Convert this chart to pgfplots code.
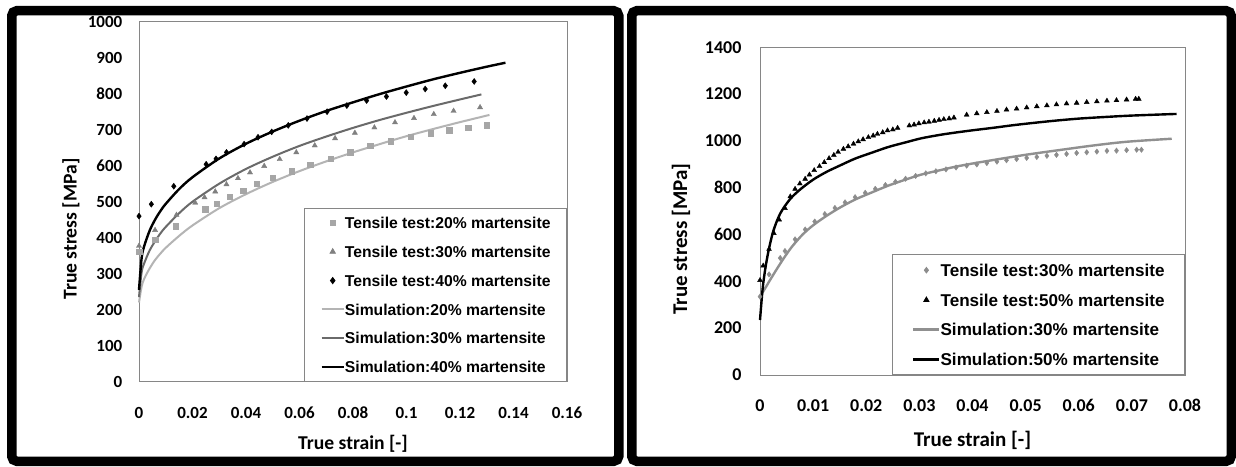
\documentclass[border=0pt]{standalone}
\usepackage{fontspec}
\setmainfont{Carlito}
\newfontfamily\legfont{Liberation Sans}
\usepackage{pgfplots}
\pgfplotsset{compat=1.18}

\definecolor{expA}{HTML}{A6A6A6}
\definecolor{simA}{HTML}{B4B4B4}
\definecolor{expB}{HTML}{808080}
\definecolor{simB}{HTML}{6A6A6A}
\definecolor{rgrayexp}{HTML}{8C8C8C}
\definecolor{rgraysim}{HTML}{909090}
\definecolor{boxgray}{HTML}{868686}

\pgfplotsset{
  panel/.style={
    scale only axis, clip=false,
    axis line style={boxgray, line width=0.9pt},
    major tick length=0pt, tick style={draw=none},
    scaled x ticks=false, scaled y ticks=false,
    /pgf/number format/assume math mode=true,
    legend cell align=left,
  }
}

\begin{document}
\begin{tikzpicture}
\path[use as bounding box] (0pt,0pt) rectangle (1236pt,466pt);
\fill[white] (0pt,0pt) rectangle (1236pt,466pt);

% panel frames
\draw[line width=9.5pt, rounded corners=5pt] (11.75pt,4.75pt) rectangle (618.75pt,455.25pt);
\draw[line width=9.5pt, rounded corners=5pt] (631.75pt,4.75pt) rectangle (1231.25pt,455.25pt);

% ---------------- left panel: 20/30/40 % martensite ----------------
\begin{axis}[panel,
  at={(139pt,84.3pt)}, anchor=south west,
  width=428pt, height=360pt,
  xmin=0, xmax=0.16, ymin=0, ymax=1000,
  xtick={0,0.02,0.04,0.06,0.08,0.1,0.12,0.14,0.16},
  xticklabels={0,0.02,0.04,0.06,0.08,0.1,0.12,0.14,0.16},
  ytick={0,100,200,300,400,500,600,700,800,900,1000},
  yticklabels={0,100,200,300,400,500,600,700,800,900,1000},
  xticklabel style={font=\fontsize{17}{20}\selectfont\bfseries, anchor=base, inner sep=0pt, yshift=-36.4pt},
  yticklabel style={font=\fontsize{17}{20}\selectfont\bfseries, anchor=base east, inner sep=0pt, xshift=-16.5pt, yshift=-5.4pt},
  xlabel={True strain [-]},
  ylabel={True stress [MPa]},
  xlabel style={font=\fontsize{19.6}{23}\selectfont\bfseries, at={(axis description cs:0.5,-0.1711)}, anchor=center},
  ylabel style={font=\fontsize{19.6}{23}\selectfont\bfseries, at={(axis description cs:-0.1589,0.424)}, anchor=center},
  legend image code/.code={\draw[mark repeat=2,mark phase=2,#1] plot coordinates {(0pt,0pt) (11pt,0pt) (22pt,0pt)};},
  legend style={at={(1,0)}, anchor=south east, draw=boxgray, line width=0.9pt, fill=white,
    font=\legfont\bfseries\fontsize{15.7}{18}\selectfont,
    inner xsep=16pt, inner ysep=8.5pt, row sep=17.2pt, column sep=0pt,
    nodes={inner sep=0pt, text height=11.6pt, text depth=0pt}},
]
\addplot[only marks, mark=square*, mark size=2.7pt, color=expA] coordinates {
(0,361) (0.006,395) (0.0137,432) (0.0248,479) (0.029,495) (0.034,514)
(0.039,530) (0.044,550) (0.050,567) (0.057,585) (0.064,602) (0.0717,620)
(0.079,638) (0.0864,655) (0.094,668) (0.1016,681) (0.109,690) (0.116,699)
(0.123,706) (0.130,713)};
\addlegendentry{Tensile test:20\% martensite}
\addplot[only marks, mark=triangle*, mark size=3pt, color=expB] coordinates {
(0,377) (0.006,421) (0.014,463) (0.021,497) (0.0245,512) (0.0285,528)
(0.0327,548) (0.037,565) (0.0415,581) (0.0468,599) (0.0526,618) (0.0588,637)
(0.0657,656) (0.0733,676) (0.0807,691) (0.088,706) (0.0957,720) (0.1028,732)
(0.1102,743) (0.1176,752) (0.1275,762)};
\addlegendentry{Tensile test:30\% martensite}
\addplot[only marks, mark=diamond*, mark size=3pt, color=black] coordinates {
(0,460) (0.0046,493) (0.013,543) (0.0251,604) (0.0288,619) (0.0327,637)
(0.0393,660) (0.0445,679) (0.0496,694) (0.0558,712) (0.0628,731) (0.0703,750)
(0.0777,767) (0.0851,781) (0.0925,792) (0.0999,803) (0.107,813) (0.1145,822)
(0.1253,834)};
\addlegendentry{Tensile test:40\% martensite}
\addplot[no marks, smooth, color=simA, line width=2pt] coordinates {
(0,220) (0.001,265) (0.002,287) (0.004,315) (0.006,338) (0.008,356)
(0.01,372) (0.015,405) (0.02,434) (0.03,482) (0.04,521) (0.05,555)
(0.06,585) (0.07,612) (0.08,637) (0.09,660) (0.10,682) (0.11,702)
(0.12,721) (0.131,741)};
\addlegendentry{Simulation:20\% martensite}
\addplot[no marks, smooth, color=simB, line width=2pt] coordinates {
(0,235) (0.001,305) (0.002,330) (0.004,365) (0.006,390) (0.008,412)
(0.01,430) (0.015,468) (0.02,500) (0.03,550) (0.04,591) (0.05,625)
(0.06,655) (0.07,681) (0.08,705) (0.09,727) (0.10,747) (0.11,766)
(0.12,784) (0.128,798)};
\addlegendentry{Simulation:30\% martensite}
\addplot[no marks, smooth, color=black, line width=2.4pt] coordinates {
(0,255) (0.001,345) (0.002,378) (0.004,420) (0.006,450) (0.008,474)
(0.01,494) (0.015,535) (0.02,568) (0.03,620) (0.04,661) (0.05,695)
(0.06,725) (0.07,752) (0.08,776) (0.09,799) (0.10,820) (0.11,840)
(0.12,858) (0.13,875) (0.137,886)};
\addlegendentry{Simulation:40\% martensite}
\end{axis}

% ---------------- right panel: 30/50 % martensite ----------------
\begin{axis}[panel,
  at={(760pt,91pt)}, anchor=south west,
  width=425pt, height=327.5pt,
  xmin=0, xmax=0.08, ymin=0, ymax=1400,
  xtick={0,0.01,0.02,0.03,0.04,0.05,0.06,0.07,0.08},
  xticklabels={0,0.01,0.02,0.03,0.04,0.05,0.06,0.07,0.08},
  ytick={0,200,400,600,800,1000,1200,1400},
  yticklabels={0,200,400,600,800,1000,1200,1400},
  xticklabel style={font=\fontsize{18}{21}\selectfont\bfseries, anchor=base, inner sep=0pt, yshift=-36.7pt},
  yticklabel style={font=\fontsize{18}{21}\selectfont\bfseries, anchor=base east, inner sep=0pt, xshift=-18.4pt, yshift=-5.7pt},
  xlabel={True strain [-]},
  ylabel={True stress [MPa]},
  xlabel style={font=\fontsize{21}{24}\selectfont\bfseries, at={(axis description cs:0.5,-0.1985)}, anchor=center},
  ylabel style={font=\fontsize{21}{24}\selectfont\bfseries, at={(axis description cs:-0.1859,0.415)}, anchor=center},
  legend image code/.code={\draw[mark repeat=2,mark phase=2,#1] plot coordinates {(0pt,0pt) (13pt,0pt) (26pt,0pt)};},
  legend style={at={(1,0)}, anchor=south east, draw=boxgray, line width=0.9pt, fill=white,
    font=\legfont\bfseries\fontsize{17.1}{20}\selectfont,
    inner xsep=20pt, inner ysep=9pt, row sep=17.2pt, column sep=0pt,
    nodes={inner sep=0pt, text height=12.5pt, text depth=0pt}},
]
\addplot[only marks, mark=diamond*, mark size=2.7pt, color=rgrayexp] coordinates {
(0,335) (0.0017,430) (0.0038,500) (0.0047,530) (0.0066,580) (0.0085,622)
(0.0103,656) (0.0122,688) (0.0141,714) (0.0160,738) (0.0179,760) (0.0198,779)
(0.0217,796) (0.0236,812) (0.0255,826) (0.0274,839) (0.0293,851) (0.0312,862)
(0.0331,871) (0.0350,879) (0.0369,887) (0.0389,895) (0.0408,900) (0.0427,906)
(0.0446,912) (0.0464,918) (0.0483,923) (0.0502,928) (0.0521,932) (0.0540,937)
(0.0558,941) (0.0577,945) (0.0596,949) (0.0615,952) (0.0634,955) (0.0653,958)
(0.0671,959) (0.0690,961) (0.0709,963) (0.0718,963)};
\addlegendentry{Tensile test:30\% martensite}
\addplot[only marks, mark=triangle*, mark size=2.8pt, color=black] coordinates {
(0,405) (0.0006,467) (0.0017,538) (0.0026,606) (0.0036,664) (0.0047,713)
(0.0057,763) (0.0066,795) (0.0075,818) (0.0085,838) (0.0093,856) (0.0102,875)
(0.0112,892) (0.0121,909) (0.0130,926) (0.0139,940) (0.0147,953) (0.0157,966)
(0.0166,977) (0.0176,988) (0.0185,998) (0.0194,1007) (0.0204,1016) (0.0213,1023)
(0.0221,1030) (0.0231,1037) (0.0240,1045) (0.0250,1049) (0.0259,1056)
(0.0281,1066) (0.0290,1070) (0.0299,1075) (0.0309,1079) (0.0318,1082)
(0.0328,1086) (0.0337,1090) (0.0346,1093) (0.0356,1096) (0.0365,1100)
(0.0389,1112) (0.0408,1118) (0.0427,1123) (0.0446,1128) (0.0464,1134)
(0.0483,1138) (0.0502,1143) (0.0521,1148) (0.0540,1152) (0.0558,1156)
(0.0577,1160) (0.0596,1163) (0.0615,1166) (0.0634,1169) (0.0653,1172)
(0.0671,1174) (0.0690,1177) (0.0707,1180) (0.0713,1180)};
\addlegendentry{Tensile test:50\% martensite}
\addplot[no marks, smooth, color=rgraysim, line width=2.4pt] coordinates {
(0,335) (0.001,372) (0.002,410) (0.003,447) (0.0045,500) (0.006,548)
(0.008,600) (0.010,640) (0.0125,680) (0.015,715) (0.0179,750) (0.021,780)
(0.0242,810) (0.0275,836) (0.0304,857) (0.034,876) (0.0367,890) (0.040,904)
(0.0439,919) (0.0502,942) (0.0565,962) (0.0627,981) (0.069,997) (0.0775,1010)};
\addlegendentry{Simulation:30\% martensite}
\addplot[no marks, smooth, color=black, line width=2.4pt] coordinates {
(0,235) (0.0005,370) (0.001,455) (0.0016,530) (0.0025,615) (0.0038,690)
(0.0056,750) (0.0075,792) (0.010,835) (0.0125,868) (0.015,895) (0.0179,925)
(0.021,950) (0.0242,975) (0.0275,995) (0.0304,1012) (0.034,1027) (0.037,1037)
(0.040,1046) (0.044,1057) (0.047,1066) (0.050,1074) (0.055,1086) (0.060,1096)
(0.065,1103) (0.070,1109) (0.0784,1116)};
\addlegendentry{Simulation:50\% martensite}
\end{axis}
\end{tikzpicture}
\end{document}
